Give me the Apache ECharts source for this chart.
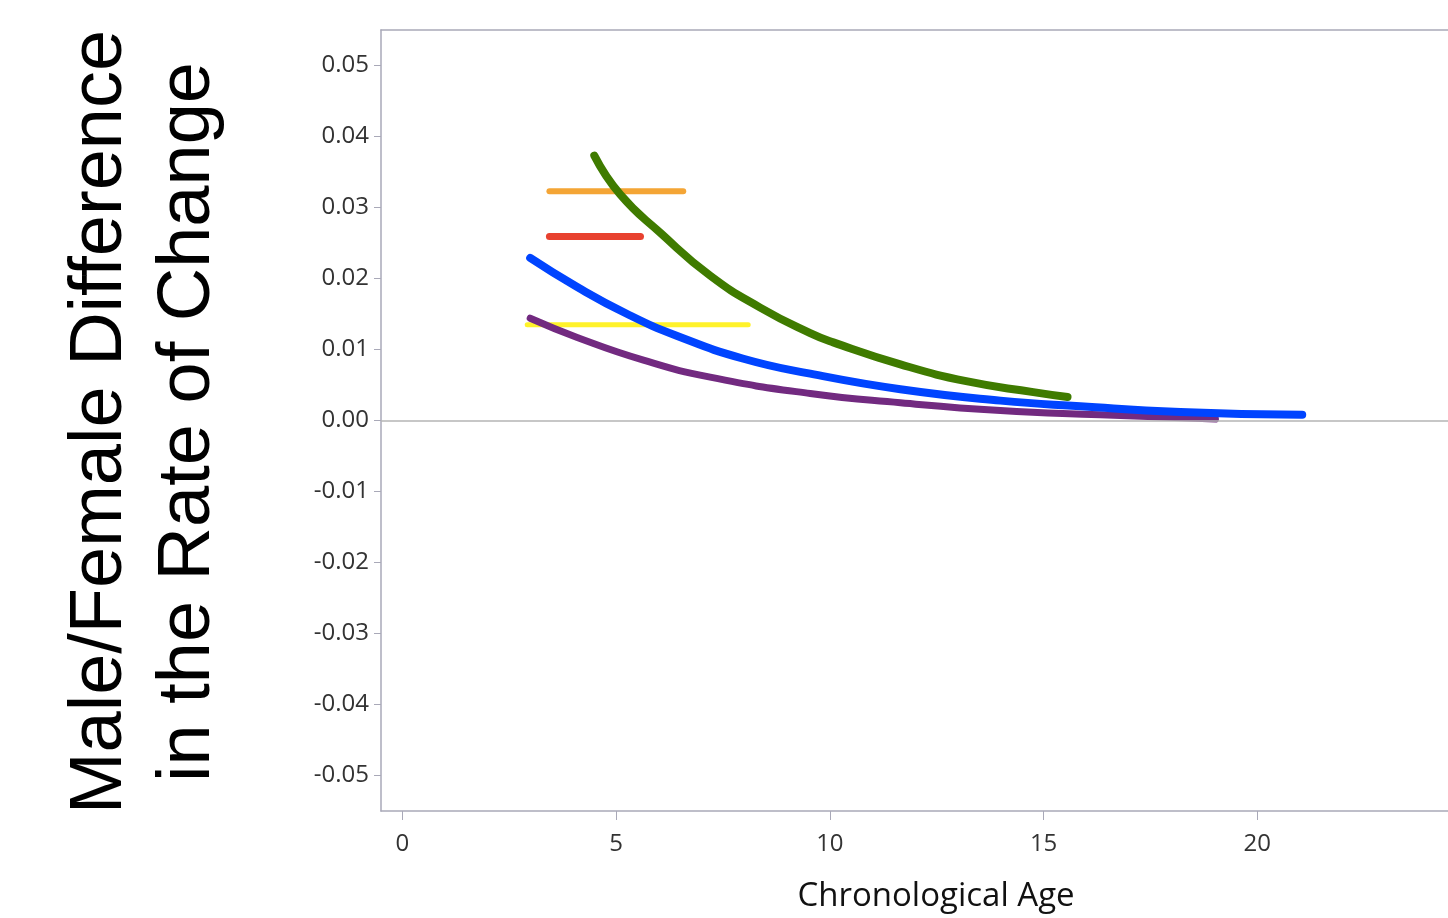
<!DOCTYPE html>
<html>
<head>
<meta charset="utf-8">
<script src="https://cdn.jsdelivr.net/npm/echarts@6/dist/echarts.min.js"></script>
<style>
  html, body { margin: 0; padding: 0; background: #fff; }
  #chart { width: 1448px; height: 918px; }
</style>
</head>
<body>
<div id="chart"></div>
<script>
// values
const xTicks = [0, 5, 10, 15, 20];
const yTicks = [-0.05, -0.04, -0.03, -0.02, -0.01, 0, 0.01, 0.02, 0.03, 0.04, 0.05];

const greenAge = [4.49, 5.10, 6.04, 7.20, 8.37, 9.54, 10.08, 11.65, 13.22, 14.76, 15.56];
const greenDiff = [0.0373, 0.0318, 0.0264, 0.0204, 0.0159, 0.0123, 0.0110, 0.0079, 0.0055, 0.0040, 0.0033];

const blueAge = [2.99, 4.09, 5.26, 6.43, 7.98, 9.54, 11.65, 13.99, 15.86, 18.2, 21.05];
const blueDiff = [0.0229, 0.0188, 0.0150, 0.0119, 0.0087, 0.0066, 0.0044, 0.0028, 0.0020, 0.0012, 0.0008];

const purpleAge = [2.99, 4.09, 5.64, 7.20, 9.54, 11.65, 13.99, 16.33, 19.02];
const purpleDiff = [0.0144, 0.0117, 0.0085, 0.0061, 0.0038, 0.0025, 0.0014, 0.0008, 0.0002];

const orangeAge = [3.44, 6.57];
const orangeDiff = [0.0323, 0.0323];
const redAge = [3.44, 5.57];
const redDiff = [0.0259, 0.0259];
const yellowAge = [2.92, 8.09];
const yellowDiff = [0.0135, 0.0135];

function pairs(xs, ys) {
    return xs.map((x, i) => [x, ys[i]]);
}

const axisGray = '#a9a9b8';
const labelFont = '"Open Sans", "DejaVu Sans", sans-serif';

function lineSeries(name, xs, ys, color, width, smooth) {
    return {
        name: name,
        type: 'line',
        data: pairs(xs, ys),
        smooth: smooth,
        symbol: 'none',
        lineStyle: { color: color, width: width, cap: 'round', join: 'round' },
        z: 3
    };
}

const chart = echarts.init(document.getElementById('chart'));
chart.setOption({
    backgroundColor: '#fff',
    animation: false,
    // plot runs past the right edge in the original, so no right border
    grid: { left: 381, top: 30, right: 0, bottom: 107 },
    xAxis: [
        {
            type: 'value',
            min: -0.5,
            max: 24.46,
            splitLine: { show: false },
            axisLine: { onZero: false, lineStyle: { color: axisGray, width: 1.5 } },
            axisTick: { customValues: xTicks, length: 9, lineStyle: { color: axisGray } },
            axisLabel: {
                customValues: xTicks,
                color: '#333', fontSize: 24, fontFamily: labelFont, margin: 21
            }
        },
        {
            type: 'value',
            position: 'top',
            min: -0.5,
            max: 24.46,
            splitLine: { show: false },
            axisLine: { onZero: false, lineStyle: { color: axisGray, width: 1.5 } },
            axisTick: { show: false },
            axisLabel: { show: false }
        }
    ],
    yAxis: {
        type: 'value',
        min: -0.055,
        max: 0.055,
        splitLine: { show: false },
        axisLine: { onZero: false, lineStyle: { color: axisGray, width: 1.5 } },
        axisTick: { customValues: yTicks, length: 7, lineStyle: { color: axisGray } },
        axisLabel: {
            customValues: yTicks,
            formatter: v => v.toFixed(2),
            color: '#333', fontSize: 24, fontFamily: labelFont, margin: 12
        }
    },
    series: [
        {
            type: 'line',
            data: [],
            markLine: {
                silent: true,
                symbol: 'none',
                label: { show: false },
                lineStyle: { color: '#b4b4b4', type: 'solid', width: 1.5 },
                data: [{ yAxis: 0 }]
            }
        },
        lineSeries('yellow', yellowAge, yellowDiff, '#fff22a', 5, false),
        lineSeries('orange', orangeAge, orangeDiff, '#f4a535', 6, false),
        lineSeries('red', redAge, redDiff, '#e8412f', 7, false),
        lineSeries('purple', purpleAge, purpleDiff, '#722a80', 7, true),
        lineSeries('blue', blueAge, blueDiff, '#0044ff', 8, true),
        lineSeries('green', greenAge, greenDiff, '#3f7b00', 8, true)
    ],
    graphic: [
        {
            type: 'text',
            x: 101, y: 422,
            rotation: Math.PI / 2,
            style: {
                text: 'Male/Female Difference',
                font: '74px "Liberation Sans", Arial, sans-serif',
                fill: '#000',
                textAlign: 'center',
                textVerticalAlign: 'middle'
            }
        },
        {
            type: 'text',
            x: 189, y: 422,
            rotation: Math.PI / 2,
            style: {
                text: 'in the Rate of Change',
                font: '74px "Liberation Sans", Arial, sans-serif',
                fill: '#000',
                textAlign: 'center',
                textVerticalAlign: 'middle'
            }
        },
        {
            type: 'text',
            x: 936, y: 897,
            style: {
                text: 'Chronological Age',
                font: '33px "Open Sans", "DejaVu Sans", sans-serif',
                fill: '#111',
                textAlign: 'center',
                textVerticalAlign: 'middle'
            }
        }
    ]
});
</script>
</body>
</html>
